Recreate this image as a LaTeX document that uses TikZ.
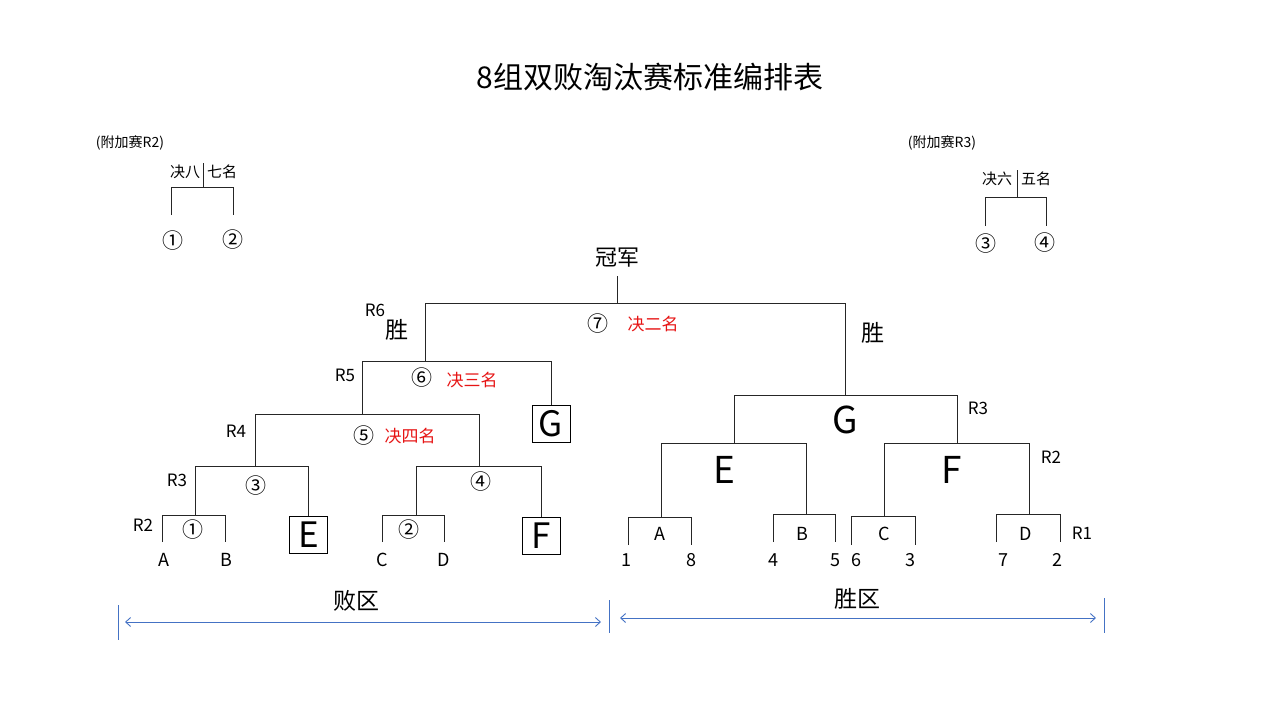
\documentclass[tikz,border=0pt]{standalone}
\usepackage{fontspec}
\setmainfont{Noto Sans CJK SC}
\usetikzlibrary{arrows.meta}
\definecolor{ablue}{RGB}{68,114,196}
\definecolor{ared}{RGB}{230,20,20}
\begin{document}
\begin{tikzpicture}[x=1pt,y=-1pt,
  ln/.style={line width=1pt,black!85},
  t/.style={inner sep=0pt,font=\fontsize{18}{18}\selectfont},
  r/.style={inner sep=0pt,font=\fontsize{17}{17}\selectfont},
  cn/.style={inner sep=0pt,font=\fontsize{21}{21}\selectfont},
  red/.style={inner sep=0pt,text=ared,font=\fontsize{17}{17}\selectfont},
  big/.style={inner sep=0pt,font=\fontsize{37}{37}\selectfont},
  box/.style={draw,line width=1pt,minimum width=38pt,minimum height=37pt,inner sep=0pt,font=\fontsize{35}{35}\selectfont},
  bl/.style={ablue,line width=0.9pt}]
\useasboundingbox (0,0) rectangle (1267,713);
\node[inner sep=0pt,font=\fontsize{30}{30}\selectfont] (title) at (650,77) {8组双败淘汰赛标准编排表};
% extra R2
\node[inner sep=0pt,font=\fontsize{14}{14}\selectfont] (x2) at (130,143) {(附加赛R2)};
\node[inner sep=0pt,font=\fontsize{15}{15}\selectfont] at (185,172) {决八};
\node[inner sep=0pt,font=\fontsize{15}{15}\selectfont] at (222,172) {七名};
\draw[ln] (203,163)--(203,187) (171,215)--(171,187)--(233,187)--(233,215);
\node[cn] at (173,241) {①};
\node[cn] at (233,240) {②};
% extra R3
\node[inner sep=0pt,font=\fontsize{14}{14}\selectfont] (x3) at (942,143) {(附加赛R3)};
\node[inner sep=0pt,font=\fontsize{15}{15}\selectfont] at (997,179) {决六};
\node[inner sep=0pt,font=\fontsize{15}{15}\selectfont] at (1036,179) {五名};
\draw[ln] (1017,170)--(1017,197) (985,226)--(985,197)--(1046,197)--(1046,226);
\node[cn] at (986,244) {③};
\node[cn] at (1045,243) {④};
% final
\node[inner sep=0pt,font=\fontsize{22}{22}\selectfont] (champ) at (617,258) {冠军};
\draw[ln] (617,276)--(617,303);
\draw[ln] (425,361)--(425,303)--(845,303)--(845,395);
\node[r] at (375,310) {R6};
\node[inner sep=0pt,font=\fontsize{23}{23}\selectfont] at (397,330) {胜};
\node[inner sep=0pt,font=\fontsize{23}{23}\selectfont] at (873,333) {胜};
\node[cn] at (598,324) {⑦};
\node[red] at (653,324) {决二名};
% loser bracket
\node[box] (G1) at (551,423.5) {G};
\draw[ln] (362,414)--(362,361)--(551,361)--(G1.north);
\node[r] at (345,375) {R5};
\node[cn] at (422,378) {⑥};
\node[red] at (472,380) {决三名};
\draw[ln] (255,466)--(255,414)--(479,414)--(479,466);
\node[r] at (236,431) {R4};
\node[cn] at (364,436) {⑤};
\node[red] at (410,436) {决四名};
\node[box] (E1) at (308.5,534.5) {E};
\draw[ln] (195,515)--(195,466)--(308.5,466)--(E1.north);
\node[r] at (177,480) {R3};
\node[cn] at (256,486) {③};
\node[box] (F1) at (541,535.5) {F};
\draw[ln] (416,515)--(416,466)--(541,466)--(F1.north);
\node[cn] at (481,482) {④};
\draw[ln] (162,542)--(162,515)--(225,515)--(225,542);
\node[r] at (143,525) {R2};
\node[cn] at (193,530) {①};
\node[t] at (164,560) {A};
\node[t] at (226,560) {B};
\draw[ln] (382,542)--(382,515)--(444,515)--(444,542);
\node[cn] at (409,530) {②};
\node[t] at (382,560) {C};
\node[t] at (444,560) {D};
% winner bracket
\draw[ln] (734,443)--(734,395)--(957,395)--(957,443);
\node[big] at (845,420) {G};
\node[r] at (978,408) {R3};
\draw[ln] (661,517)--(661,443)--(806,443)--(806,514);
\node[big] at (724,470) {E};
\draw[ln] (884,516)--(884,443)--(1029,443)--(1029,514);
\node[big] at (952,470) {F};
\node[r] at (1051,457) {R2};
\draw[ln] (628,545)--(628,517)--(691,517)--(691,545);
\draw[ln] (773,542)--(773,514)--(835,514)--(835,542);
\draw[ln] (851,545)--(851,516)--(915,516)--(915,545);
\draw[ln] (996,542)--(996,514)--(1060,514)--(1060,542);
\node[r] at (1082,533) {R1};
\node[t] at (660,534) {A};
\node[t] at (802,534) {B};
\node[t] at (884,534) {C};
\node[t] at (1026,534) {D};
\foreach \x/\n in {626/1,691/8,773/4,835/5,856/6,910/3,1003/7,1057/2}
  \node[t] at (\x,560) {\n};
% zones
\node[inner sep=0pt,font=\fontsize{23}{23}\selectfont] (lz) at (356,601) {败区};
\node[inner sep=0pt,font=\fontsize{23}{23}\selectfont] (wz) at (857,599) {胜区};
\draw[bl] (118,605)--(118,640) (609,600)--(609,633) (1104,598)--(1104,633);
\coordinate (a1) at (125,622); \coordinate (a2) at (601,622);
\coordinate (b1) at (620,618); \coordinate (b2) at (1096,618);
\draw[bl,{Straight Barb[length=5pt,width=9pt]}-{Straight Barb[length=5pt,width=9pt]}] (a1)--(a2);
\draw[bl,{Straight Barb[length=5pt,width=9pt]}-{Straight Barb[length=5pt,width=9pt]}] (b1)--(b2);
\end{tikzpicture}
\end{document}
